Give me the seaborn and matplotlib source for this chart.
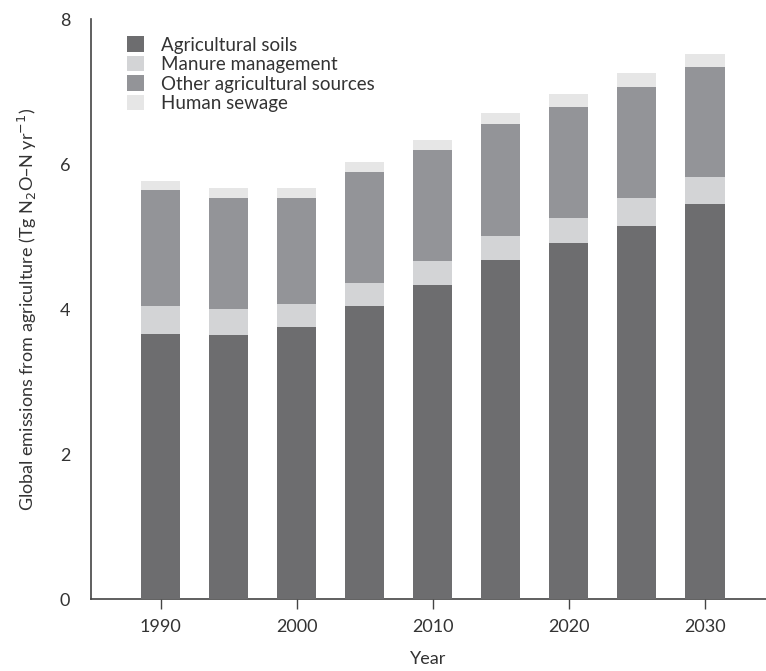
import numpy as np
import pandas as pd
import seaborn as sns
import matplotlib
matplotlib.use('Agg')
import matplotlib.pyplot as plt
from matplotlib.patches import Patch

# данные (Tg N2O-N в год)
years = [1990, 1995, 2000, 2005, 2010, 2015, 2020, 2025, 2030]
soils = [3.66, 3.64, 3.76, 4.04, 4.33, 4.68, 4.92, 5.15, 5.45]
manure = [0.39, 0.36, 0.32, 0.33, 0.34, 0.33, 0.34, 0.39, 0.37]
other = [1.60, 1.54, 1.46, 1.53, 1.53, 1.55, 1.53, 1.53, 1.52]
sewage = [0.12, 0.13, 0.13, 0.13, 0.14, 0.15, 0.18, 0.19, 0.19]

names = ['Agricultural soils', 'Manure management',
         'Other agricultural sources', 'Human sewage']
colors = ['#6d6d6f', '#d3d4d6', '#939498', '#e6e6e6']

sns.set_style('white')
plt.rcParams['font.family'] = ['Lato', 'DejaVu Sans']

df = pd.DataFrame({'Year': years})
cum = np.cumsum(np.array([soils, manure, other, sewage]), axis=0)

fig = plt.figure(figsize=(7.66, 6.71), dpi=100)
ax = fig.add_axes([0.119, 0.107, 0.881, 0.864])

# рисуем накопленные суммы сверху вниз, чтобы получить стопку
for i in range(3, -1, -1):
    df['val'] = cum[i]
    sns.barplot(data=df, x='Year', y='val', native_scale=True, width=0.58,
                color=colors[i], saturation=1, linewidth=0, ax=ax, zorder=2 + (3 - i))

ax.set_xlim(1984.9, 2034.5)
ax.set_ylim(0, 8)
ax.set_yticks([0, 2, 4, 6, 8])
ax.set_xticks([1990, 2000, 2010, 2020, 2030])
ax.set_xticklabels(['1990', '2000', '2010', '2020', '2030'])

for side in ['top', 'right']:
    ax.spines[side].set_visible(False)
for side in ['left', 'bottom']:
    ax.spines[side].set_color('#444444')
    ax.spines[side].set_linewidth(1.2)

ax.tick_params(axis='x', direction='out', length=7, width=1, color='#444444',
               labelsize=13, labelcolor='#333333', pad=7, bottom=True)
ax.tick_params(axis='y', length=0, labelsize=13, labelcolor='#333333', pad=15, left=False)

ax.set_xlabel('Year', fontsize=13, color='#333333', labelpad=12)
ax.set_ylabel('Global emissions from agriculture (Tg N$_2$O\u2013N yr$^{-1}$)',
              fontsize=13, color='#333333', labelpad=15)

handles = [Patch(facecolor=c, edgecolor='none', label=n) for n, c in zip(names, colors)]
ax.legend(handles=handles, loc='upper left', bbox_to_anchor=(0.028, 1.0), frameon=False,
          fontsize=13.5, handlelength=0.9, handleheight=0.9, handletextpad=0.9,
          labelspacing=0.12, labelcolor='#333333')

fig.savefig('out.png', dpi=100)
